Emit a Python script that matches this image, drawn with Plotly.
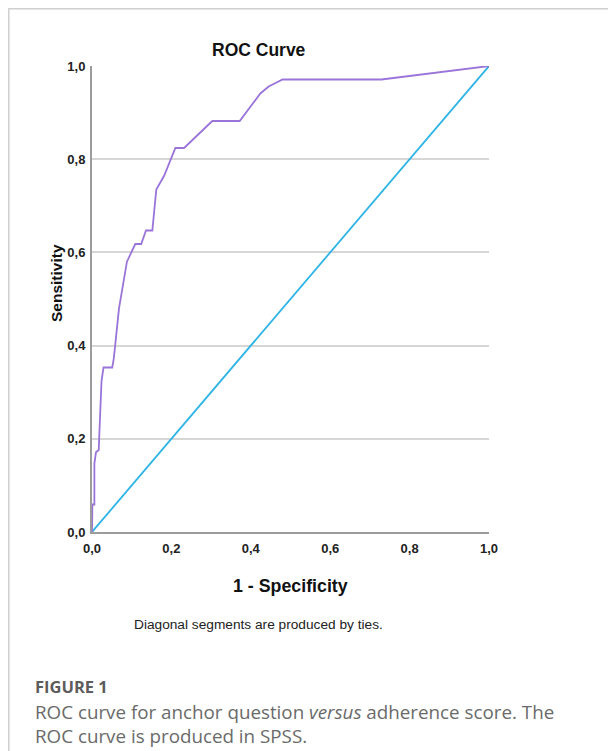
import plotly.graph_objects as go

# ---- data ----
roc_fpr = [0.0, 0.001, 0.006, 0.006, 0.010, 0.017, 0.018, 0.024, 0.029, 0.051, 0.055, 0.065,
           0.068, 0.088, 0.097, 0.109, 0.124, 0.136, 0.152, 0.162, 0.182, 0.210, 0.232, 0.303,
           0.372, 0.424, 0.445, 0.480, 0.729, 1.0]
roc_tpr = [0.0, 0.059, 0.059, 0.147, 0.171, 0.176, 0.200, 0.324, 0.353, 0.353, 0.373, 0.463,
           0.480, 0.580, 0.596, 0.618, 0.618, 0.647, 0.647, 0.735, 0.765, 0.824, 0.824, 0.882,
           0.882, 0.941, 0.956, 0.971, 0.971, 1.0]
ref_x = [0.0, 1.0]
ref_y = [0.0, 1.0]
tick_vals = [0.0, 0.2, 0.4, 0.6, 0.8, 1.0]
tick_text = ["0,0", "0,2", "0,4", "0,6", "0,8", "1,0"]

# page is 616x751; the html body adds an 8px margin, so the figure is 8px smaller
PAGE_W, PAGE_H, OFF = 616, 751, 8
W, H = PAGE_W - OFF, PAGE_H - OFF
# plot area in page pixels
L, R, T, B = 92, 489, 66, 532


def px(x):
    return (x - L) / (R - L)


def py(y):
    return (B - y) / (B - T)


fig = go.Figure()
fig.add_trace(go.Scatter(x=ref_x, y=ref_y, mode="lines",
                         line=dict(color="#2fb4e6", width=1.8), cliponaxis=False,
                         showlegend=False, hoverinfo="skip"))
fig.add_trace(go.Scatter(x=roc_fpr, y=roc_tpr, mode="lines",
                         line=dict(color="#9b74da", width=1.8), cliponaxis=False,
                         showlegend=False))

chart_font = "Liberation Sans, Arial, sans-serif"
cap_font = "Open Sans, sans-serif"

fig.update_layout(
    width=W, height=H,
    margin=dict(l=L - OFF, r=W - (R - OFF), t=T - OFF, b=H - (B - OFF)),
    paper_bgcolor="white", plot_bgcolor="white",
    xaxis=dict(range=[0, 1], tickvals=tick_vals, ticktext=tick_text, showgrid=False,
               zeroline=False, showline=True, linecolor="#9c9c9c", linewidth=2,
               ticks="", ticklabelstandoff=3,
               tickfont=dict(family=chart_font, size=13, color="#222", weight="bold"),
               fixedrange=True),
    yaxis=dict(range=[0, 1], tickvals=tick_vals, ticktext=tick_text, showgrid=True,
               gridcolor="#d6d6d6", gridwidth=2, zeroline=False, showline=True,
               linecolor="#9c9c9c", linewidth=2, ticks="", ticklabelstandoff=2,
               tickfont=dict(family=chart_font, size=13, color="#222", weight="bold"),
               fixedrange=True),
)

# outer frame (top and left edges visible, rest runs off the canvas)
fig.add_shape(type="rect", xref="paper", yref="paper",
              x0=px(OFF + 0.8), x1=px(PAGE_W + 20), y0=py(PAGE_H + 20), y1=py(OFF + 0.8),
              line=dict(color="#cfcfcf", width=1.5), fillcolor="rgba(0,0,0,0)", layer="below")


def ann(text, x, y, size, family=chart_font, color="#111", bold=False, xanchor="center",
        angle=0, align="center"):
    fig.add_annotation(text=text, xref="paper", yref="paper", x=px(x), y=py(y),
                       xanchor=xanchor, yanchor="middle", showarrow=False, textangle=angle,
                       align=align,
                       font=dict(family=family, size=size, color=color,
                                 weight="bold" if bold else "normal"))


ann("ROC Curve", 259, 50, 17.5, bold=True)
ann("Sensitivity", 56.5, 283.5, 15.5, bold=True, angle=-90)
ann("1 - Specificity", 290, 586, 17.8, bold=True)
ann("Diagonal segments are produced by ties.", 258, 624, 13.7, color="#222")
ann("FIGURE 1", 33, 686, 16.5, family=cap_font, color="#5c5c5c", bold=True, xanchor="left")
ann("ROC curve for anchor question <i>versus</i> adherence score. The<br>"
    "ROC curve is produced in SPSS.", 33, 723.5, 18.8,
    family=cap_font, color="#6a6a6a", xanchor="left", align="left")

fig.write_html("out.html")
